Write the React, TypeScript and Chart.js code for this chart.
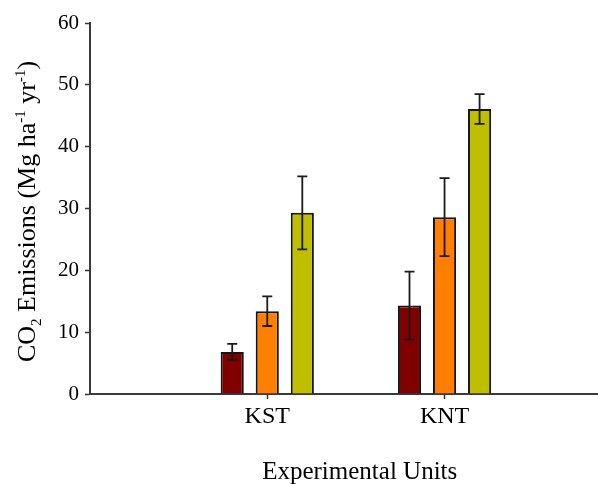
import React, { useEffect, useRef } from "react";
import { Chart, registerables } from "chart.js";

Chart.register(...registerables);

// ---- data ----
const categories = ["KST", "KNT"];
const seriesNames = ["Treatment A", "Treatment B", "Treatment C"];
const seriesDarkRed = [6.8, 14.3];
const errorsDarkRed = [1.3, 5.5];
const seriesOrange = [13.4, 28.6];
const errorsOrange = [2.4, 6.3];
const seriesYellow = [29.3, 46.1];
const errorsYellow = [5.9, 2.4];
const yTickValues = [0, 10, 20, 30, 40, 50, 60];
const xTitle = "Experimental Units";
const yTitleParts: { text: string; kind: "n" | "sub" | "sup" }[] = [
  { text: "CO", kind: "n" },
  { text: "2", kind: "sub" },
  { text: " Emissions (Mg ha", kind: "n" },
  { text: "-1", kind: "sup" },
  { text: " yr", kind: "n" },
  { text: "-1", kind: "sup" },
  { text: ")", kind: "n" },
];

const colors = ["#800000", "#ff8000", "#bfbf00"];
const FONT = "'Liberation Serif', 'Times New Roman', serif";

const errorBarPlugin = {
  id: "errorBars",
  afterDatasetsDraw(chart: any) {
    const ctx = chart.ctx;
    const yScale = chart.scales.y;
    ctx.save();
    ctx.strokeStyle = "#1a1a1a";
    ctx.lineWidth = 1.8;
    chart.data.datasets.forEach((ds: any, i: number) => {
      const meta = chart.getDatasetMeta(i);
      meta.data.forEach((el: any, j: number) => {
        const v = ds.data[j].y;
        const e = ds.errors[j];
        const x = el.x;
        const yHi = yScale.getPixelForValue(v + e);
        const yLo = yScale.getPixelForValue(v - e);
        const cap = 5;
        ctx.beginPath();
        ctx.moveTo(x, yHi);
        ctx.lineTo(x, yLo);
        ctx.moveTo(x - cap, yHi);
        ctx.lineTo(x + cap, yHi);
        ctx.moveTo(x - cap, yLo);
        ctx.lineTo(x + cap, yLo);
        ctx.stroke();
      });
    });
    ctx.restore();
  },
};

const titlesPlugin = {
  id: "richTitles",
  afterDraw(chart: any) {
    const ctx = chart.ctx;
    const area = chart.chartArea;
    ctx.save();
    ctx.fillStyle = "#000";
    // x title
    ctx.font = `25px ${FONT}`;
    ctx.textAlign = "center";
    ctx.textBaseline = "alphabetic";
    ctx.fillText(xTitle, area.left + (area.right - area.left) * 0.532, 479);

    // y title (rotated, with sub/superscripts)
    const mainFont = `26px ${FONT}`;
    const smallFont = `15px ${FONT}`;
    let total = 0;
    const widths = yTitleParts.map((p) => {
      ctx.font = p.kind === "n" ? mainFont : smallFont;
      const w = ctx.measureText(p.text).width;
      total += w;
      return w;
    });
    const cx = 35;
    const cy = (area.top + area.bottom) / 2 + 3;
    ctx.translate(cx, cy);
    ctx.rotate(-Math.PI / 2);
    ctx.textAlign = "left";
    let xPos = -total / 2;
    yTitleParts.forEach((p, i) => {
      ctx.font = p.kind === "n" ? mainFont : smallFont;
      const dy = p.kind === "sub" ? 6 : p.kind === "sup" ? -10 : 0;
      ctx.fillText(p.text, xPos, dy);
      xPos += widths[i];
    });
    ctx.restore();
  },
};

export default function App() {
  const ref = useRef<HTMLCanvasElement | null>(null);

  useEffect(() => {
    if (!ref.current) return;
    const series = [seriesDarkRed, seriesOrange, seriesYellow];
    const errors = [errorsDarkRed, errorsOrange, errorsYellow];
    const chart = new Chart(ref.current, {
      type: "bar",
      data: {
        datasets: series.map((vals, s) => ({
          label: seriesNames[s],
          data: vals.map((v, i) => ({ x: i + 1, y: v })),
          errors: errors[s],
          backgroundColor: colors[s],
          borderColor: "#141414",
          borderWidth: 2,
          categoryPercentage: 0.593,
          barPercentage: 0.66,
        })) as any,
      },
      options: {
        responsive: false,
        animation: false,
        layout: { padding: { top: 23, right: 1, left: 0, bottom: 0 } },
        plugins: {
          legend: { display: false },
          tooltip: { enabled: false },
        },
        scales: {
          x: {
            type: "linear",
            min: 0,
            max: 2.86,
            offset: false,
            afterBuildTicks: (s: any) => {
              s.ticks = categories.map((_, i) => ({ value: i + 1 }));
            },
            ticks: {
              autoSkip: false,
              maxRotation: 0,
              color: "#000",
              padding: 3,
              font: { family: FONT, size: 24 },
              callback: (v: any) => categories[Number(v) - 1] ?? "",
            },
            grid: {
              offset: false,
              drawOnChartArea: false,
              drawTicks: true,
              tickLength: 5,
              tickWidth: 1.5,
              color: "#333",
            },
            border: { display: true, color: "#3a3a3a", width: 2 },
            afterFit: (s: any) => {
              s.height = 90;
            },
          } as any,
          y: {
            min: 0,
            max: 60,
            afterBuildTicks: (s: any) => {
              s.ticks = yTickValues.map((v) => ({ value: v }));
            },
            ticks: {
              color: "#000",
              padding: 6,
              font: { family: FONT, size: 21 },
            },
            grid: {
              drawOnChartArea: false,
              drawTicks: true,
              tickLength: 5,
              tickWidth: 1.5,
              color: "#333",
            },
            border: { display: true, color: "#3a3a3a", width: 2 },
            afterFit: (s: any) => {
              s.width = 90;
            },
          } as any,
        },
      },
      plugins: [errorBarPlugin, titlesPlugin],
    });
    return () => chart.destroy();
  }, []);

  return (
    <div style={{ position: "fixed", left: 0, top: 0, width: 598, height: 484, background: "#fff" }}>
      <canvas ref={ref} width={598} height={484} style={{ display: "block" }} />
    </div>
  );
}
